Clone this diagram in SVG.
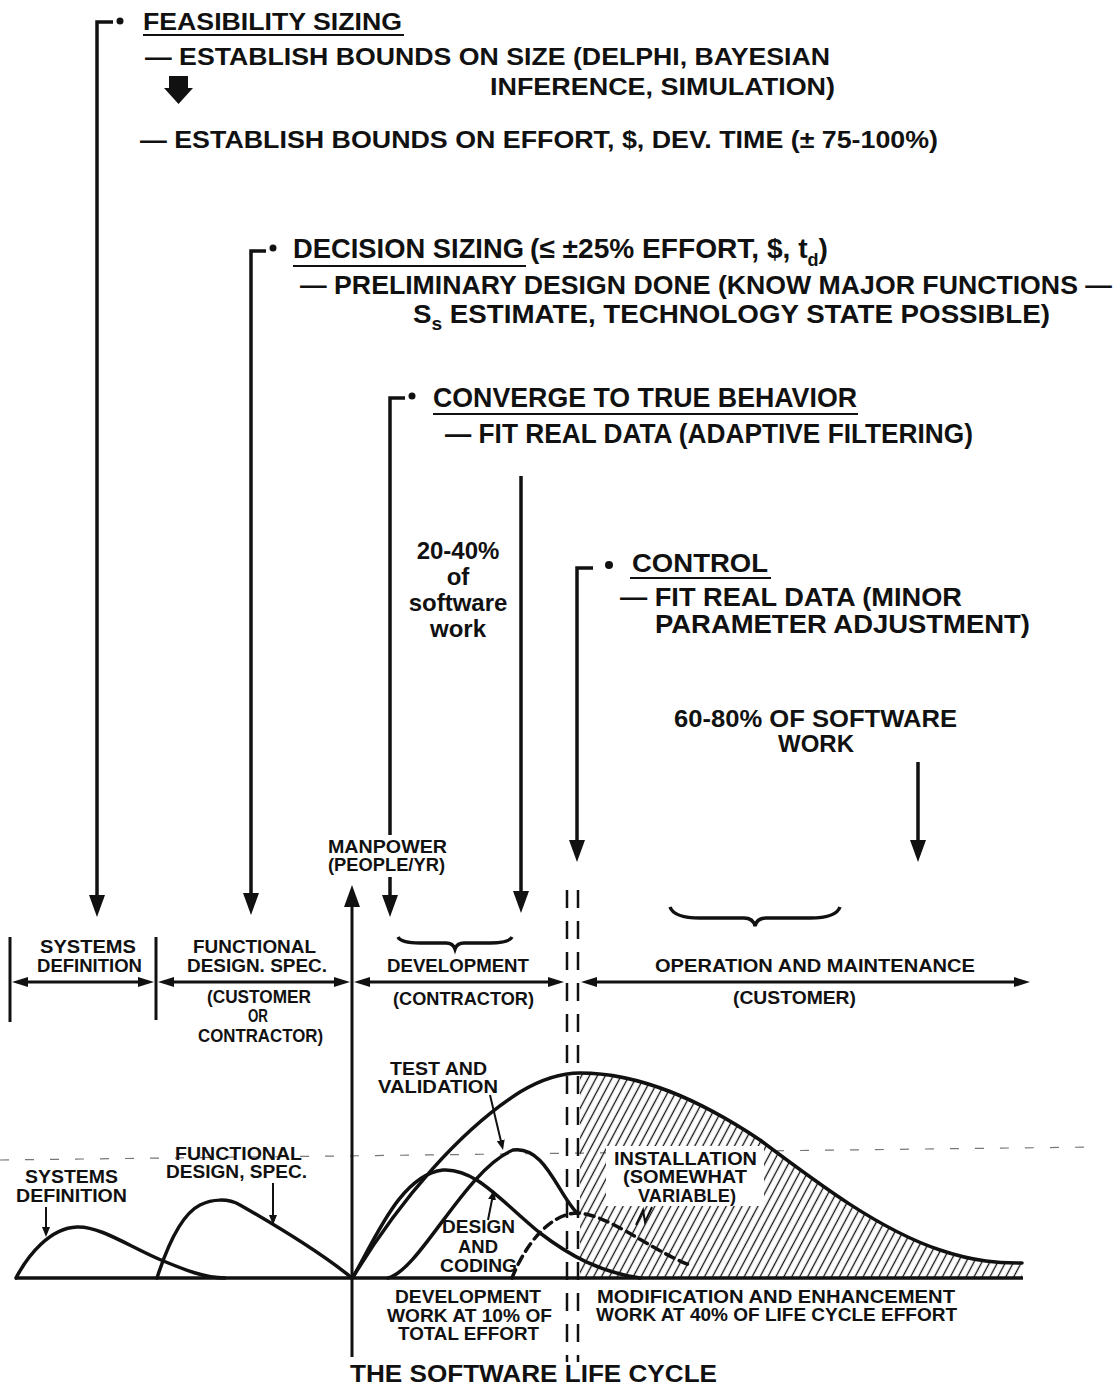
<svg xmlns="http://www.w3.org/2000/svg" width="1120" height="1385" viewBox="0 0 1120 1385">
<style>
.t{font-family:"Liberation Sans",Arial,Helvetica,sans-serif;font-weight:bold;fill:#111}
.f28{font-size:28px}.f27{font-size:27px}.f26{font-size:26px}.f24{font-size:24px}.f23{font-size:23px}.f18{font-size:18px}.f17{font-size:17.5px}
.ln{stroke:#111;stroke-width:3.5;fill:none}
.ax{stroke:#111;stroke-width:3;fill:none}
.thin{stroke:#111;stroke-width:2;fill:none}
.crv{stroke:#111;stroke-width:3.5;fill:none;stroke-linecap:round}
.dsh{stroke:#111;stroke-width:2.5;fill:none;stroke-dasharray:18 13}
.ul{stroke:#111;stroke-width:2}
</style>
<defs>
<marker id="ah" markerUnits="userSpaceOnUse" markerWidth="22" markerHeight="16" viewBox="0 0 22 16" refX="4" refY="8" orient="auto"><path d="M0,0 L22,8 L0,16 z" fill="#111"/></marker>
<marker id="as" markerUnits="userSpaceOnUse" markerWidth="16" markerHeight="10" viewBox="0 0 16 10" refX="3" refY="5" orient="auto-start-reverse"><path d="M0,0 L16,5 L0,10 z" fill="#111"/></marker>
<marker id="al" markerUnits="userSpaceOnUse" markerWidth="10" markerHeight="8" viewBox="0 0 10 8" refX="2" refY="4" orient="auto"><path d="M0,0 L10,4 L0,8 z" fill="#111"/></marker>
<pattern id="hatch" patternUnits="userSpaceOnUse" width="7" height="10" patternTransform="rotate(28)"><line x1="3.5" y1="-1" x2="3.5" y2="11" stroke="#111" stroke-width="1.3"/></pattern>
</defs>
<rect width="1120" height="1385" fill="#fff"/>

<g id="feasibility">
<circle cx="120" cy="21" r="3.5" fill="#111"/>
<text class="t f23" x="143" y="30" textLength="259" lengthAdjust="spacingAndGlyphs">FEASIBILITY SIZING</text>
<line class="ul" x1="143" y1="35" x2="404" y2="35"/>
<text class="t f23" x="145" y="65" textLength="685" lengthAdjust="spacingAndGlyphs">— ESTABLISH BOUNDS ON SIZE (DELPHI, BAYESIAN</text>
<text class="t f23" x="490" y="95" textLength="345" lengthAdjust="spacingAndGlyphs">INFERENCE, SIMULATION)</text>
<path d="M169,76 H188 V88 H193 L178.5,104 L164,88 H169 Z" fill="#111"/>
<text class="t f23" x="140" y="148" textLength="798" lengthAdjust="spacingAndGlyphs">— ESTABLISH BOUNDS ON EFFORT, $, DEV. TIME (± 75-100%)</text>
</g>

<g id="decision">
<circle cx="273" cy="248" r="3.5" fill="#111"/>
<text class="t f28" x="293" y="258" textLength="231" lengthAdjust="spacingAndGlyphs">DECISION SIZING</text>
<line class="ul" x1="293" y1="266" x2="526" y2="266"/>
<text class="t f28" x="530" y="258" textLength="298" lengthAdjust="spacingAndGlyphs">(≤ ±25% EFFORT, $, t<tspan font-size="18" dy="8">d</tspan><tspan dy="-8">)</tspan></text>
<text class="t f26" x="300" y="294" textLength="812" lengthAdjust="spacingAndGlyphs">— PRELIMINARY DESIGN DONE (KNOW MAJOR FUNCTIONS —</text>
<text class="t f26" x="413" y="323" textLength="637" lengthAdjust="spacingAndGlyphs">S<tspan font-size="18" dy="7">s</tspan><tspan dy="-7"> ESTIMATE, TECHNOLOGY STATE POSSIBLE)</tspan></text>
</g>

<g id="converge">
<circle cx="412" cy="396" r="3.5" fill="#111"/>
<text class="t f28" x="433" y="407" textLength="424" lengthAdjust="spacingAndGlyphs">CONVERGE TO TRUE BEHAVIOR</text>
<line class="ul" x1="433" y1="414" x2="858" y2="414"/>
<text class="t f27" x="445" y="443" textLength="528" lengthAdjust="spacingAndGlyphs">— FIT REAL DATA (ADAPTIVE FILTERING)</text>
</g>

<g id="work-20-40">
<text class="t f24" x="458" y="559" text-anchor="middle">20-40%</text>
<text class="t f24" x="458" y="585" text-anchor="middle">of</text>
<text class="t f24" x="458" y="611" text-anchor="middle">software</text>
<text class="t f24" x="458" y="637" text-anchor="middle">work</text>
</g>

<g id="control">
<circle cx="609" cy="565" r="4" fill="#111"/>
<text class="t f26" x="632" y="572" textLength="136" lengthAdjust="spacingAndGlyphs">CONTROL</text>
<line class="ul" x1="630" y1="578" x2="771" y2="578"/>
<text class="t f26" x="620" y="606" textLength="342" lengthAdjust="spacingAndGlyphs">— FIT REAL DATA (MINOR</text>
<text class="t f26" x="655" y="633" textLength="375" lengthAdjust="spacingAndGlyphs">PARAMETER ADJUSTMENT)</text>
</g>

<g id="work-60-80">
<text class="t f24" x="674" y="727" textLength="283" lengthAdjust="spacingAndGlyphs">60-80% OF SOFTWARE</text>
<text class="t f24" x="816" y="752" text-anchor="middle">WORK</text>
</g>

<g id="manpower-axis">
<text class="t f17" x="328" y="853" textLength="119" lengthAdjust="spacingAndGlyphs">MANPOWER</text>
<text class="t f17" x="328" y="871" textLength="117" lengthAdjust="spacingAndGlyphs">(PEOPLE/YR)</text>
</g>

<g id="phase-bar">
<line class="ax" x1="10" y1="937" x2="10" y2="1022"/>
<line class="ax" x1="156" y1="937" x2="156" y2="1020"/>
<text class="t f17" x="40" y="953" textLength="96" lengthAdjust="spacingAndGlyphs">SYSTEMS</text>
<text class="t f17" x="37" y="972" textLength="105" lengthAdjust="spacingAndGlyphs">DEFINITION</text>
<text class="t f17" x="193" y="953" textLength="123" lengthAdjust="spacingAndGlyphs">FUNCTIONAL</text>
<text class="t f17" x="187" y="972" textLength="140" lengthAdjust="spacingAndGlyphs">DESIGN. SPEC.</text>
<text class="t f17" x="207" y="1003" textLength="104" lengthAdjust="spacingAndGlyphs">(CUSTOMER</text>
<text class="t f17" x="248" y="1022" textLength="20" lengthAdjust="spacingAndGlyphs">OR</text>
<text class="t f17" x="198" y="1042" textLength="125" lengthAdjust="spacingAndGlyphs">CONTRACTOR)</text>
<text class="t f17" x="387" y="972" textLength="142" lengthAdjust="spacingAndGlyphs">DEVELOPMENT</text>
<text class="t f17" x="393" y="1005" textLength="141" lengthAdjust="spacingAndGlyphs">(CONTRACTOR)</text>
<text class="t f17" x="655" y="972" textLength="320" lengthAdjust="spacingAndGlyphs">OPERATION AND MAINTENANCE</text>
<text class="t f17" x="733" y="1004" textLength="123" lengthAdjust="spacingAndGlyphs">(CUSTOMER)</text>
<path class="ln" d="M398,937 Q401,943 420,943 L446,943 Q453,943 455,949 Q457,943 464,943 L490,943 Q509,943 512,937"/>
<path class="ln" d="M670,907 Q674,918 700,918 L744,918 Q753,918 755,926 Q757,918 766,918 L810,918 Q836,918 840,907"/>
</g>

<g id="chart">
<line x1="0" y1="1160" x2="1095" y2="1147" stroke="#777" stroke-width="1.2" stroke-dasharray="9 16"/>
<path d="M580,1073 C640,1073 700,1100 760,1140 C820,1185 880,1230 940,1250 C975,1262 1000,1263 1022,1263 L1022,1278 L580,1278 Z" fill="url(#hatch)"/>
<rect x="606" y="1146" width="158" height="60" fill="#fff"/>
<line class="ln" x1="15" y1="1278" x2="1023" y2="1278"/>
<path class="crv" d="M16,1278 C28,1255 50,1228 77,1227 C100,1226 130,1247 161,1260 C185,1270 205,1278 225,1278"/>
<path class="crv" d="M157,1278 C166,1250 180,1215 200,1205 C212,1199 228,1198 240,1205 C275,1225 320,1252 352,1278"/>
<path class="crv" d="M353,1277 C400,1200 460,1130 520,1092 C545,1077 565,1073 580,1073 C640,1073 700,1100 760,1140 C820,1185 880,1230 940,1250 C975,1262 1000,1263 1022,1263"/>
<path class="crv" d="M353,1277 C375,1240 400,1175 443,1170 C475,1168 500,1200 540,1233 C570,1256 600,1272 640,1278"/>
<path class="crv" d="M388,1278 C420,1270 465,1170 513,1150 C545,1145 558,1195 578,1214"/>
<path class="crv" d="M512,1278 C525,1245 550,1213 578,1213 C610,1215 650,1250 692,1266" stroke-dasharray="9 6" stroke-linecap="butt"/>
<text class="t f17" x="25" y="1183" textLength="93" lengthAdjust="spacingAndGlyphs">SYSTEMS</text>
<text class="t f17" x="16" y="1202" textLength="111" lengthAdjust="spacingAndGlyphs">DEFINITION</text>
<text class="t f17" x="175" y="1160" textLength="127" lengthAdjust="spacingAndGlyphs">FUNCTIONAL</text>
<text class="t f17" x="166" y="1178" textLength="141" lengthAdjust="spacingAndGlyphs">DESIGN, SPEC.</text>
<text class="t f17" x="390" y="1075" textLength="97" lengthAdjust="spacingAndGlyphs">TEST AND</text>
<text class="t f17" x="378" y="1093" textLength="120" lengthAdjust="spacingAndGlyphs">VALIDATION</text>
<text class="t f17" x="442" y="1233" textLength="73" lengthAdjust="spacingAndGlyphs">DESIGN</text>
<text class="t f17" x="458" y="1253" textLength="40" lengthAdjust="spacingAndGlyphs">AND</text>
<text class="t f17" x="440" y="1272" textLength="77" lengthAdjust="spacingAndGlyphs">CODING</text>
<text class="t f17" x="614" y="1165" textLength="143" lengthAdjust="spacingAndGlyphs">INSTALLATION</text>
<text class="t f17" x="623" y="1183" textLength="124" lengthAdjust="spacingAndGlyphs">(SOMEWHAT</text>
<text class="t f17" x="638" y="1202" textLength="98" lengthAdjust="spacingAndGlyphs">VARIABLE)</text>
<polyline class="thin" points="636,1225 643,1210 645,1222 652,1207"/>
<text class="t f17" x="395" y="1303" textLength="146" lengthAdjust="spacingAndGlyphs">DEVELOPMENT</text>
<text class="t f17" x="387" y="1322" textLength="165" lengthAdjust="spacingAndGlyphs">WORK AT 10% OF</text>
<text class="t f17" x="398" y="1340" textLength="141" lengthAdjust="spacingAndGlyphs">TOTAL EFFORT</text>
<text class="t f17" x="597" y="1303" textLength="358" lengthAdjust="spacingAndGlyphs">MODIFICATION AND ENHANCEMENT</text>
<text class="t f17" x="596" y="1321" textLength="361" lengthAdjust="spacingAndGlyphs">WORK AT 40% OF LIFE CYCLE EFFORT</text>
<text class="t f24" x="350" y="1382" textLength="367" lengthAdjust="spacingAndGlyphs">THE SOFTWARE LIFE CYCLE</text>
</g>

<g id="connectors">
<polyline class="ln" points="113,22 97,22 97,899" marker-end="url(#ah)"/>
<polyline class="ln" points="266,251 251,251 251,897" marker-end="url(#ah)"/>
<polyline class="ln" points="405,398 390,398 390,835"/>
<line class="ln" x1="390" y1="877" x2="390" y2="899" marker-end="url(#ah)"/>
<line class="ln" x1="521" y1="476" x2="521" y2="895" marker-end="url(#ah)"/>
<polyline class="ln" points="593,568 577,568 577,844" marker-end="url(#ah)"/>
<line class="ln" x1="918" y1="762" x2="918" y2="844" marker-end="url(#ah)"/>
<line class="ax" x1="352" y1="1357" x2="352" y2="903" marker-end="url(#ah)"/>
<line class="ax" x1="25" y1="982" x2="141" y2="982" marker-start="url(#as)" marker-end="url(#as)"/>
<line class="ax" x1="171" y1="982" x2="337" y2="982" marker-start="url(#as)" marker-end="url(#as)"/>
<line class="ax" x1="367" y1="982" x2="551" y2="982" marker-start="url(#as)" marker-end="url(#as)"/>
<line class="ax" x1="594" y1="982" x2="1017" y2="982" marker-start="url(#as)" marker-end="url(#as)"/>
<line class="dsh" x1="567" y1="890" x2="567" y2="1362"/>
<line class="dsh" x1="578" y1="890" x2="578" y2="1362"/>
<line class="thin" x1="46" y1="1207" x2="46" y2="1229" marker-end="url(#al)"/>
<line class="thin" x1="273" y1="1183" x2="273" y2="1217" marker-end="url(#al)"/>
<line class="thin" x1="490" y1="1095" x2="501.2" y2="1142.2" marker-end="url(#al)"/>
<line class="thin" x1="488" y1="1220" x2="492.4" y2="1197.8" marker-end="url(#al)"/>
</g>
</svg>
